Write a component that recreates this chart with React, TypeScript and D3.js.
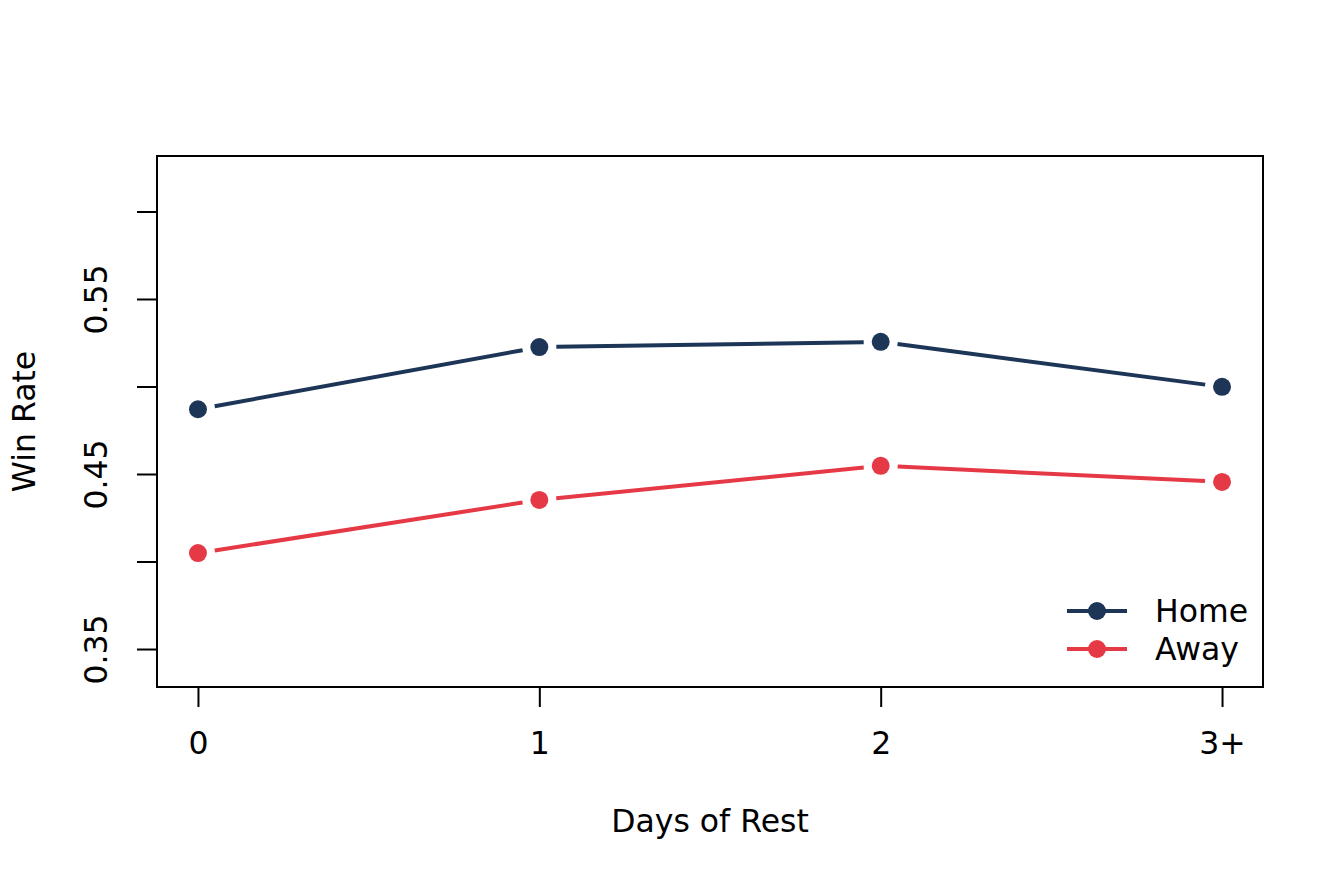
import { useEffect, useRef } from "react";
import * as d3 from "d3";

const restDays = ["0", "1", "2", "3+"];
const homeRate = [0.487, 0.5225, 0.5255, 0.4998];
const awayRate = [0.4048, 0.4352, 0.4547, 0.4455];
const yTicks = [0.35, 0.4, 0.45, 0.5, 0.55, 0.6];
const yLabelled = [0.35, 0.45, 0.55];

const HOME = "#1d3557";
const AWAY = "#e63946";
const FONT = "DejaVu Sans";
const FS = 31.5;

export default function App() {
  const ref = useRef<SVGSVGElement | null>(null);

  useEffect(() => {
    document.body.style.margin = "0";
    if (!ref.current) return;

    const width = 1344;
    const height = 883;
    const box = { left: 157, right: 1263, top: 156, bottom: 687 };

    const svg = d3.select(ref.current).html("").attr("width", width).attr("height", height);

    const x = d3.scaleLinear().domain([-0.12, 3.12]).range([box.left, box.right]);
    const y = d3.scaleLinear().domain([0.3283, 0.6317]).range([box.bottom, box.top]);

    // box
    svg.append("rect")
      .attr("x", box.left)
      .attr("y", box.top)
      .attr("width", box.right - box.left)
      .attr("height", box.bottom - box.top)
      .attr("fill", "none")
      .attr("stroke", "#000")
      .attr("stroke-width", 2);

    // x axis
    const xAxis = svg.append("g").attr("transform", `translate(0,${box.bottom})`)
      .call(d3.axisBottom(x).tickValues(d3.range(restDays.length)).tickFormat((d) => restDays[d as number]).tickSize(20).tickPadding(25));
    xAxis.select(".domain").remove();
    xAxis.selectAll("line").attr("stroke-width", 2);
    xAxis.selectAll("text").attr("font-family", FONT).attr("font-size", FS).attr("fill", "#000");

    // y axis
    const yAxis = svg.append("g").attr("transform", `translate(${box.left},0)`)
      .call(d3.axisLeft(y).tickValues(yTicks).tickFormat((d) => (yLabelled.some((v) => Math.abs(v - (d as number)) < 1e-9) ? d3.format(".2f")(d as number) : "")).tickSize(20).tickPadding(0));
    yAxis.select(".domain").remove();
    yAxis.selectAll("line").attr("stroke-width", 2);
    yAxis.selectAll("text")
      .attr("font-family", FONT)
      .attr("font-size", FS)
      .attr("fill", "#000")
      .attr("x", null)
      .attr("dy", null)
      .attr("text-anchor", "middle")
      .attr("transform", "translate(-50,0) rotate(-90)");

    // axis titles
    svg.append("text")
      .attr("x", (box.left + box.right) / 2)
      .attr("y", 832)
      .attr("text-anchor", "middle")
      .attr("font-family", FONT)
      .attr("font-size", FS)
      .text("Days of Rest");

    svg.append("text")
      .attr("transform", `translate(35,${(box.top + box.bottom) / 2}) rotate(-90)`)
      .attr("text-anchor", "middle")
      .attr("font-family", FONT)
      .attr("font-size", FS)
      .text("Win Rate");

    // series, drawn like type = "b" (gaps around points)
    const gap = 17;
    const drawSeries = (values: number[], color: string) => {
      const g = svg.append("g");
      for (let i = 0; i < values.length - 1; i++) {
        const x1 = x(i), y1 = y(values[i]);
        const x2 = x(i + 1), y2 = y(values[i + 1]);
        const len = Math.hypot(x2 - x1, y2 - y1);
        const ux = (x2 - x1) / len, uy = (y2 - y1) / len;
        g.append("line")
          .attr("x1", x1 + ux * gap).attr("y1", y1 + uy * gap)
          .attr("x2", x2 - ux * gap).attr("y2", y2 - uy * gap)
          .attr("stroke", color)
          .attr("stroke-width", 4);
      }
      g.selectAll("circle")
        .data(values)
        .join("circle")
        .attr("cx", (_, i) => x(i))
        .attr("cy", (d) => y(d))
        .attr("r", 9)
        .attr("fill", color);
    };
    drawSeries(homeRate, HOME);
    drawSeries(awayRate, AWAY);

    // legend
    const legend = [
      { label: "Home", color: HOME, cy: 611 },
      { label: "Away", color: AWAY, cy: 649 },
    ];
    legend.forEach((l) => {
      svg.append("line")
        .attr("x1", 1067).attr("x2", 1127)
        .attr("y1", l.cy).attr("y2", l.cy)
        .attr("stroke", l.color).attr("stroke-width", 4);
      svg.append("circle").attr("cx", 1097).attr("cy", l.cy).attr("r", 9).attr("fill", l.color);
      svg.append("text")
        .attr("x", 1155)
        .attr("y", l.cy + 11)
        .attr("font-family", FONT)
        .attr("font-size", FS)
        .text(l.label);
    });
  }, []);

  return <svg ref={ref}></svg>;
}
